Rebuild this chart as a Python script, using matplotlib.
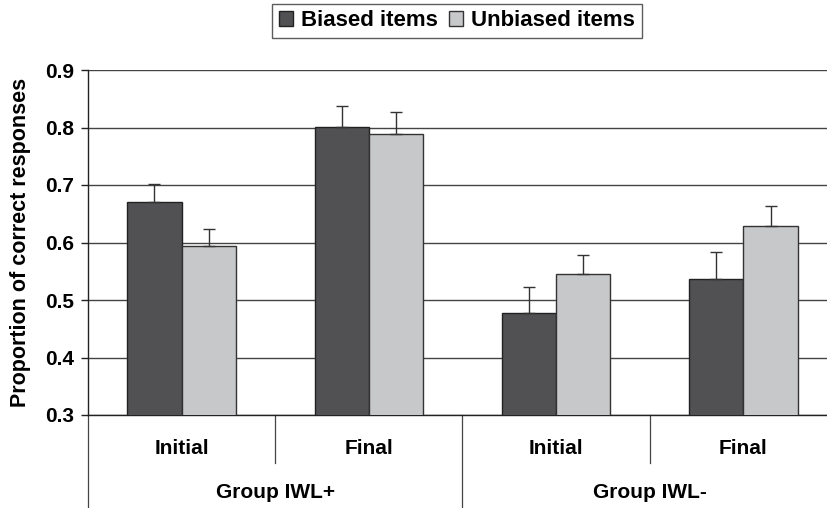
import matplotlib
matplotlib.use("Agg")
import matplotlib.pyplot as plt
from matplotlib.lines import Line2D
from matplotlib.patches import Patch
import numpy as np

plt.rcParams['font.family'] = ['Liberation Sans', 'DejaVu Sans']
plt.rcParams['font.weight'] = 'bold'

phases = ["Initial", "Final", "Initial", "Final"]
groups = ["Group IWL+", "Group IWL-"]
series_names = ["Biased items", "Unbiased items"]
biased = [0.670, 0.801, 0.477, 0.536]
biased_err = [0.031, 0.036, 0.046, 0.048]
unbiased = [0.594, 0.789, 0.546, 0.628]
unbiased_err = [0.029, 0.038, 0.032, 0.036]
yticks = [0.3, 0.4, 0.5, 0.6, 0.7, 0.8, 0.9]

dark = "#515153"
light = "#c7c8ca"

fig = plt.figure(figsize=(8.28, 5.08), dpi=100)
ax = fig.add_axes([88/828, 93/508, 749/828, 345/508])

x = np.arange(len(phases))
w = 0.29
ax.bar(x - w/2, biased, w, color=dark, edgecolor="#222222", linewidth=1.0, zorder=3)
ax.bar(x + w/2, unbiased, w, color=light, edgecolor="#333333", linewidth=1.0, zorder=3)
ax.errorbar(x - w/2, biased, yerr=[np.zeros(4), biased_err], fmt='none', ecolor="#333333",
            elinewidth=1.0, capsize=4.5, capthick=1.0, zorder=4)
ax.errorbar(x + w/2, unbiased, yerr=[np.zeros(4), unbiased_err], fmt='none', ecolor="#333333",
            elinewidth=1.0, capsize=4.5, capthick=1.0, zorder=4)

ax.set_xlim(-0.5, len(phases) - 0.5)
ax.set_ylim(0.3, 0.9)
ax.set_yticks(yticks)
ax.set_yticklabels([f"{v:.1f}" for v in yticks], fontsize=15, fontweight='bold')
ax.yaxis.grid(True, color="#444444", linewidth=1.0, zorder=0)
ax.set_axisbelow(True)
for s in ['top', 'right']:
    ax.spines[s].set_visible(False)
ax.spines['left'].set_color("#222222")
ax.spines['bottom'].set_color("#222222")
ax.spines['left'].set_linewidth(1.0)
ax.spines['bottom'].set_linewidth(1.0)
ax.tick_params(axis='y', length=5, width=1, color="#222222", pad=5)
ax.tick_params(axis='x', length=0, labelbottom=False)
ax.set_ylabel("Proportion of correct responses", fontsize=15.5, fontweight='bold', labelpad=10)

# category labels and dividers
trans = ax.get_xaxis_transform()
ax_h_px = 345.0
def yax(px_below):
    return -px_below / ax_h_px

for i, p in enumerate(phases):
    ax.text(i, yax(33), p, transform=trans, ha='center', va='center', fontsize=15, fontweight='bold')
for gi, g in enumerate(groups):
    ax.text(gi*2 + 0.5, yax(78), g, transform=trans, ha='center', va='center', fontsize=15, fontweight='bold')
for b in [0.5, 2.5]:
    ax.add_line(Line2D([b, b], [0, yax(48)], transform=trans, color="#444444", lw=0.9, clip_on=False))
for b in [-0.5, 1.5, 3.5]:
    ax.add_line(Line2D([b, b], [0, yax(93)], transform=trans, color="#444444", lw=0.9, clip_on=False))

handles = [Patch(facecolor=dark, edgecolor="#222222", label=series_names[0]),
           Patch(facecolor=light, edgecolor="#333333", label=series_names[1])]
leg = fig.legend(handles=handles, loc='center', bbox_to_anchor=(457/828, 1 - 21/508), ncol=2,
                 frameon=True, fancybox=False, handlelength=0.65, handleheight=0.65,
                 handletextpad=0.35, columnspacing=0.5, borderpad=0.3, borderaxespad=0,
                 prop={'weight': 'bold', 'size': 16})
leg.get_frame().set_edgecolor("#333333")
leg.get_frame().set_linewidth(1.0)

fig.savefig("out.png", dpi=100)
